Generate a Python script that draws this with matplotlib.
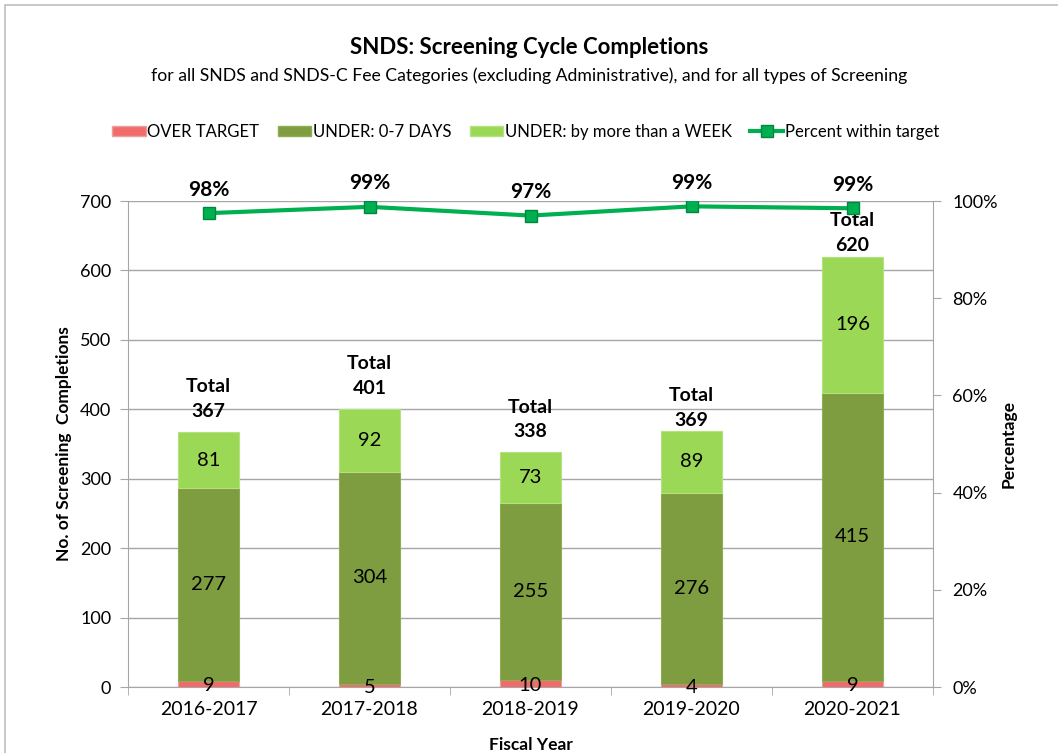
import matplotlib.pyplot as plt
import matplotlib.patches as mpatches
import matplotlib.transforms as mtransforms
import numpy as np

years = ["2016-2017", "2017-2018", "2018-2019", "2019-2020", "2020-2021"]
over_target = [9, 5, 10, 4, 9]
under_0_7 = [277, 304, 255, 276, 415]
under_week = [81, 92, 73, 89, 196]
totals = [367, 401, 338, 369, 620]
pct_within = [0.975, 0.988, 0.970, 0.989, 0.985]
pct_labels = ["98%", "99%", "97%", "99%", "99%"]

# gap (px) between bar top and the "Total" label, set by hand in the original
total_gap_px = [12, 12, 12, 2, 3]

plt.rcParams["font.family"] = ["Lato", "DejaVu Sans"]

c_red = "#F26B6B"
c_olive = "#7E9C40"
c_light = "#9BD855"
c_line = "#00B050"
grey = "#A6A6A6"

fig = plt.figure(figsize=(10.58, 7.53), dpi=100)
ax = fig.add_axes([128 / 1058, 66 / 753, 805 / 1058, 486 / 753])

x = np.arange(len(years))
w = 0.385
ax.bar(x, over_target, w, color=c_red, edgecolor="#E8A0A0", linewidth=0.8, zorder=3)
ax.bar(x, under_0_7, w, bottom=over_target, color=c_olive, edgecolor="#8FAE52",
       linewidth=0.8, zorder=3)
bottom3 = np.array(over_target) + np.array(under_0_7)
ax.bar(x, under_week, w, bottom=bottom3, color=c_light, edgecolor="#B5E27F",
       linewidth=0.8, zorder=3)

for i in range(len(years)):
    ax.text(x[i], over_target[i] / 2 - 3, str(over_target[i]), ha="center", va="center",
            fontsize=14.5, zorder=5)
    ax.text(x[i], over_target[i] + under_0_7[i] / 2, str(under_0_7[i]), ha="center",
            va="center", fontsize=14.5, zorder=5)
    ax.text(x[i], bottom3[i] + under_week[i] / 2, str(under_week[i]), ha="center",
            va="center", fontsize=14.5, zorder=5)
    off = mtransforms.offset_copy(ax.transData, fig=fig, x=0, y=total_gap_px[i], units="dots")
    ax.text(x[i], totals[i], f"Total\n{totals[i]}", ha="center", va="bottom",
            fontsize=14, fontweight="bold", linespacing=1.55, zorder=5, transform=off)

ax.set_xlim(-0.5, 4.5)
ax.set_ylim(0, 700)
ax.set_yticks(range(0, 701, 100))
ax.set_xticks(x)
ax.set_xticklabels(years, fontsize=14)
ax.set_xticks(np.arange(-0.5, 5, 1), minor=True)
ax.tick_params(axis="x", which="major", length=0, pad=10)
ax.tick_params(axis="x", which="minor", length=6, color=grey)
ax.tick_params(axis="y", length=6, color=grey, labelsize=13, pad=6)
ax.grid(axis="y", color=grey, linewidth=1, zorder=0)
for s in ["top", "right"]:
    ax.spines[s].set_visible(False)
for s in ["left", "bottom"]:
    ax.spines[s].set_color(grey)
ax.set_ylabel("No. of Screening  Completions", fontsize=12.5, fontweight="bold", labelpad=6)
ax.set_xlabel("Fiscal Year", fontsize=12.5, fontweight="bold", labelpad=14)

ax2 = ax.twinx()
ax2.set_ylim(0, 1)
ax2.set_yticks(np.arange(0, 1.01, 0.2))
ax2.set_yticklabels([f"{int(round(v * 100))}%" for v in np.arange(0, 1.01, 0.2)])
ax2.tick_params(axis="y", length=6, color=grey, labelsize=13, pad=8)
for s in ["top", "left", "bottom"]:
    ax2.spines[s].set_visible(False)
ax2.spines["right"].set_color(grey)
ax2.set_ylabel("Percentage", fontsize=12.5, fontweight="bold", labelpad=2)
ln, = ax2.plot(x, pct_within, color=c_line, linewidth=3, marker="s", markersize=8,
               markerfacecolor=c_line, markeredgecolor="#00873F", zorder=6)
for i in range(len(years)):
    ax2.text(x[i], pct_within[i] + 0.028, pct_labels[i], ha="center", va="bottom",
             fontsize=15, fontweight="bold")

fig.text(0.5, 1 - 48 / 753, "SNDS: Screening Cycle Completions", ha="center", va="center",
         fontsize=16, fontweight="bold")
fig.text(0.5, 1 - 76 / 753,
         "for all SNDS and SNDS-C Fee Categories (excluding Administrative), and for all types of Screening",
         ha="center", va="center", fontsize=12.7)

handles = [mpatches.Patch(facecolor=c_red, edgecolor="#E8A0A0"),
           mpatches.Patch(facecolor=c_olive, edgecolor="#8FAE52"),
           mpatches.Patch(facecolor=c_light, edgecolor="#B5E27F"),
           ln]
labels = ["OVER TARGET", "UNDER: 0-7 DAYS", "UNDER: by more than a WEEK",
          "Percent within target"]
fig.legend(handles, labels, loc="center", bbox_to_anchor=(0.497, 1 - 132 / 753), ncol=4,
           frameon=False, fontsize=12, handlelength=2.0, handleheight=0.6,
           handletextpad=0.1, columnspacing=1.1)

border = mpatches.Rectangle((5 / 1058, -0.1), 1.2, 1 - 5 / 753 + 0.1, transform=fig.transFigure,
                            fill=False, edgecolor="#BFBFBF", linewidth=1.2)
fig.patches.append(border)

fig.savefig("out.png", dpi=100)
